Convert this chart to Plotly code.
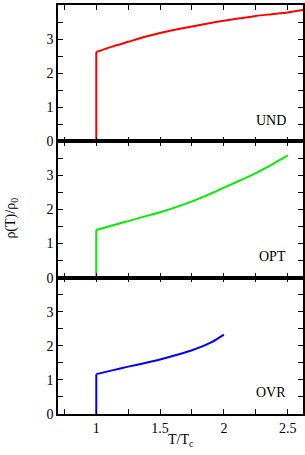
import plotly.graph_objects as go
from plotly.subplots import make_subplots

# Data
und_x = [1.0, 1.0, 1.125, 1.25, 1.375, 1.5, 1.625, 1.75, 1.875, 2.0, 2.125, 2.25, 2.375, 2.5, 2.62]
und_y = [0.0, 2.62, 2.78, 2.92, 3.06, 3.18, 3.28, 3.37, 3.46, 3.54, 3.61, 3.68, 3.73, 3.78, 3.85]

opt_x = [1.0, 1.0, 1.125, 1.25, 1.375, 1.5, 1.625, 1.75, 1.875, 2.0, 2.125, 2.25, 2.375, 2.5]
opt_y = [0.0, 1.40, 1.53, 1.66, 1.79, 1.92, 2.07, 2.24, 2.43, 2.64, 2.85, 3.07, 3.32, 3.59]

ovr_x = [1.0, 1.0, 1.125, 1.25, 1.375, 1.5, 1.625, 1.75, 1.9, 2.0]
ovr_y = [0.0, 1.17, 1.28, 1.39, 1.49, 1.60, 1.73, 1.87, 2.10, 2.33]

labels = ["UND", "OPT", "OVR"]
colors = ["#ff0000", "#00ee00", "#0000ff"]

x_ticks = [1, 1.5, 2, 2.5]
y_ticks = [0, 1, 2, 3]

FONT = "Liberation Serif"

fig = make_subplots(rows=3, cols=1, shared_xaxes=True, vertical_spacing=0)

series = [(und_x, und_y), (opt_x, opt_y), (ovr_x, ovr_y)]
for i, ((xs, ys), c) in enumerate(zip(series, colors), start=1):
    # vertical jump at T = Tc
    fig.add_trace(go.Scatter(x=xs[:2], y=ys[:2], mode="lines", line=dict(color=c, width=2),
                             showlegend=False, hoverinfo="skip"), row=i, col=1)
    # smooth curve above Tc
    fig.add_trace(go.Scatter(x=xs[1:], y=ys[1:], mode="lines",
                             line=dict(color=c, width=2, shape="spline", smoothing=0.8),
                             showlegend=False), row=i, col=1)
    fig.add_annotation(x=2.5, y=0.62, xref=f"x{'' if i == 1 else i}", yref=f"y{'' if i == 1 else i}",
                       text=labels[i - 1], showarrow=False, xanchor="right", yanchor="middle",
                       font=dict(family=FONT, size=14, color="black"))

axis_common = dict(showline=True, linewidth=1.6, linecolor="black", mirror="ticks",
                   ticks="inside", ticklen=5, tickwidth=1.2, tickcolor="black",
                   showgrid=False, zeroline=False, automargin=False,
                   tickfont=dict(family=FONT, size=14, color="black"))

for i in range(1, 4):
    fig.update_xaxes(range=[0.7, 2.62], tickvals=x_ticks,
                     ticktext=["1", "1.5", "2", "2.5"],
                     showticklabels=(i == 3),
                     minor=dict(dtick=0.25, tick0=0, ticks="inside", ticklen=5,
                                tickwidth=1.2, tickcolor="black", showgrid=False),
                     row=i, col=1, **axis_common)
    fig.update_yaxes(range=[0, 4], tickvals=y_ticks,
                     minor=dict(dtick=0.5, tick0=0, ticks="inside", ticklen=5,
                                tickwidth=1.2, tickcolor="black", showgrid=False),
                     row=i, col=1, **axis_common)

fig.add_annotation(xref="paper", yref="paper", x=-0.188, y=0.48, text="ρ(T)/ρ<sub>0</sub>",
                   showarrow=False, textangle=-90, xanchor="center", yanchor="middle",
                   font=dict(family=FONT, size=14, color="black"))
fig.add_annotation(xref="paper", yref="paper", x=0.5, y=-0.066, text="T/T<sub>c</sub>",
                   showarrow=False, xanchor="center", yanchor="middle",
                   font=dict(family=FONT, size=14, color="black"))

fig.update_layout(width=305, height=455, margin=dict(l=58, r=2, t=5, b=41),
                  plot_bgcolor="white", paper_bgcolor="white",
                  font=dict(family=FONT, size=14, color="black"))

fig.write_html("out.html", config={"displayModeBar": False},
               post_script="document.body.style.margin='0px';document.body.style.overflow='hidden';")
